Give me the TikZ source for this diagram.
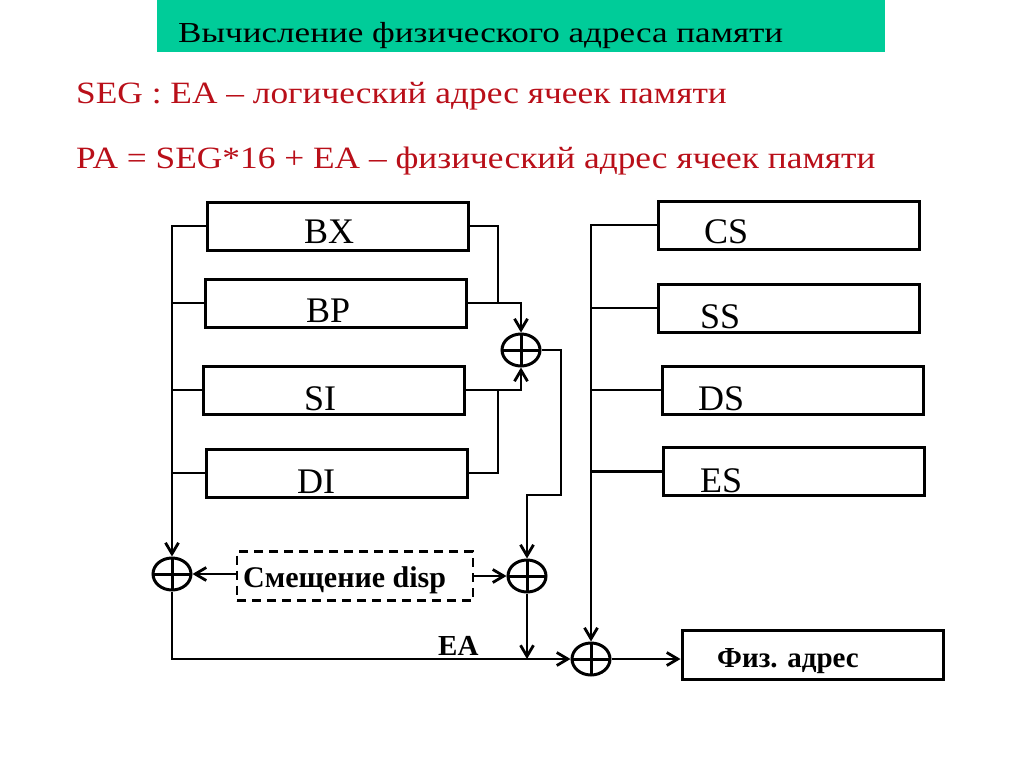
\documentclass[tikz,border=0pt]{standalone}
\usepackage{fontspec}
\setmainfont{Liberation Serif}
\newfontfamily\headfont[FakeStretch=1.21,Ligatures=TeX]{Liberation Serif}
\newfontfamily\redfont[FakeStretch=1.14,Ligatures=TeX]{Liberation Serif}
\usetikzlibrary{shapes.geometric,arrows.meta}
\definecolor{headgreen}{RGB}{0,204,153}
\definecolor{textred}{RGB}{185,15,25}
\tikzset{
  reg/.style={draw, line width=3pt, minimum width=261pt, minimum height=48pt, inner sep=0pt},
  regtext/.style={anchor=base west, inner sep=0pt, font=\fontsize{36}{40}\selectfont},
  adder/.style={draw, ellipse, line width=3pt, minimum width=38pt, minimum height=32pt, inner sep=0pt,
    path picture={\draw[line width=3pt] (path picture bounding box.north) -- (path picture bounding box.south)
      (path picture bounding box.west) -- (path picture bounding box.east);}},
  arr/.style={-{Straight Barb[length=11pt,width=13pt]}},
  wire/.style={line width=2.8pt}
}
\begin{document}
\begin{tikzpicture}[x=1pt,y=-1pt]
          \useasboundingbox (0,0) rectangle (1024,768);
          % heading and two red lines
          \fill[headgreen] (157,0) rectangle (885,52);
          \node[anchor=base west, inner sep=0pt, font=\headfont\fontsize{29}{32}\selectfont] (head) at (178,42) {Вычисление физического адреса памяти};
          \node[anchor=base west, inner sep=0pt, text=textred, font=\redfont\fontsize{31}{34}\selectfont] (logaddr) at (76,103) {SEG : EA -- логический адрес ячеек памяти};
          \node[anchor=base west, inner sep=0pt, text=textred, font=\redfont\fontsize{31}{34}\selectfont] (physaddr) at (76,168) {PA = SEG*16 + EA -- физический адрес ячеек памяти};
          % four base and index registers
          \node[reg] (bx) at (337.5,226) {};
          \node[reg] (bp) at (336,303) {};
          \node[reg] (si) at (334,390) {};
          \node[reg] (di) at (336.5,473) {};
          \node[regtext] (bxt) at (304,243) {BX};
          \node[regtext] (bpt) at (306,322) {BP};
          \node[regtext] (sit) at (304,410) {SI};
          \node[regtext] (dit) at (297,493) {DI};
          % four segment registers
          \node[reg] (cs) at (788.5,225) {};
          \node[reg] (ss) at (789,308) {};
          \node[reg] (ds) at (792.5,390) {};
          \node[reg] (es) at (794,471.5) {};
          \node[regtext] (cst) at (704,243) {CS};
          \node[regtext] (sst) at (700,328) {SS};
          \node[regtext] (dst) at (698,410) {DS};
          \node[regtext] (est) at (700,492) {ES};
          % four adders
          \node[adder] (addbase) at (521,350) {};
          \node[adder] (adddisp) at (527,576) {};
          \node[adder] (addleft) at (172,574) {};
          \node[adder] (addseg) at (591,659) {};
          % displacement and result
          \node[draw, line width=2.6pt, dash pattern=on 9pt off 6pt, minimum width=236pt, minimum height=49pt] (disp) at (355,576) {};
          \node[anchor=base west, inner sep=0pt, font=\bfseries\fontsize{30}{33}\selectfont] (dispt) at (243,587) {Смещение disp};
          \node[reg, minimum height=49pt] (phys) at (812.5,654.5) {};
          \node[anchor=base west, inner sep=0pt, font=\bfseries\fontsize{29}{32}\selectfont] (physt) at (717,667) {Физ. адрес};
          \node[anchor=base west, inner sep=0pt, font=\bfseries\fontsize{29}{32}\selectfont] (ea) at (438,655) {EA};
          % left bus
          \draw[wire,arr] (bx.west) -| (addleft.north);
          \foreach \r in {bp,si,di} \draw[wire] (\r.west) -- (\r.west -| addleft.north);
          % base plus index
          \coordinate (jup) at (498,303);
          \coordinate (jdn) at (498,390);
          \draw[wire] (bx.east) -| (jup);
          \draw[wire] (di.east) -| (jdn);
          \draw[wire,arr] (bp.east) -| (addbase.north);
          \draw[wire,arr] (si.east) -| (addbase.south);
          \coordinate (turn) at (561,495);
          \draw[wire,arr] (addbase.east) -| (turn) -| (adddisp.north);
          % displacement arrows
          \draw[wire,arr] (addleft.east -| disp.west) -- (addleft.east);
          \draw[wire,arr] (adddisp.west -| disp.east) -- (adddisp.west);
          % effective address
          \draw[wire,arr] (adddisp.south) -- (adddisp.south |- addseg.west);
          \draw[wire,arr] (addleft.south) |- (addseg.west);
          % segment bus
          \draw[wire,arr] (cs.west) -| (addseg.north);
          \foreach \r in {ss,ds,es} \draw[wire] (\r.west) -- (\r.west -| addseg.north);
          \draw[wire,arr] (addseg.east) -- (addseg.east -| phys.west);
        \end{tikzpicture}
\end{document}
